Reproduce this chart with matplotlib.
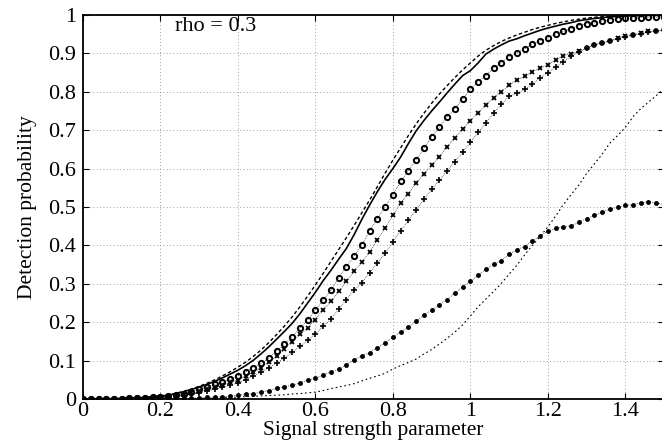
import numpy as np
import matplotlib
matplotlib.use("Agg")
import matplotlib.pyplot as plt

plt.rcParams['font.family'] = ['Liberation Serif', 'DejaVu Serif']

# signal strength grid (step 0.02)
signal = np.linspace(0, 1.5, 76)

# detection probability curves
solid_curve = [
    0.000, 0.000, 0.000, 0.000, 0.001, 0.001, 0.002, 0.003, 0.004, 0.005,
    0.007, 0.010, 0.014, 0.019, 0.025, 0.031, 0.038, 0.046, 0.055, 0.065,
    0.075, 0.087, 0.101, 0.118, 0.136, 0.156, 0.176, 0.197, 0.222, 0.250,
    0.278, 0.308, 0.335, 0.364, 0.392, 0.428, 0.468, 0.505, 0.540, 0.572,
    0.600, 0.630, 0.665, 0.698, 0.725, 0.750, 0.773, 0.797, 0.820, 0.842,
    0.855, 0.875, 0.898, 0.911, 0.922, 0.932, 0.938, 0.946, 0.953, 0.960,
    0.966, 0.971, 0.976, 0.980, 0.985, 0.988, 0.991, 0.993, 0.995, 0.996,
    0.997, 0.998, 0.998, 0.999, 0.999, 0.999]
dashed_curve = [
    0.000, 0.000, 0.000, 0.000, 0.001, 0.001, 0.002, 0.003, 0.004, 0.006,
    0.008, 0.011, 0.015, 0.020, 0.026, 0.033, 0.041, 0.050, 0.060, 0.071,
    0.083, 0.096, 0.111, 0.128, 0.147, 0.168, 0.190, 0.214, 0.240, 0.268,
    0.297, 0.327, 0.358, 0.389, 0.420, 0.452, 0.485, 0.518, 0.553, 0.588,
    0.622, 0.654, 0.686, 0.716, 0.744, 0.770, 0.794, 0.816, 0.837, 0.857,
    0.875, 0.893, 0.908, 0.920, 0.931, 0.940, 0.948, 0.955, 0.962, 0.968,
    0.973, 0.978, 0.982, 0.986, 0.989, 0.992, 0.994, 0.996, 0.997, 0.998,
    0.999, 0.999, 1.000, 1.000, 1.000, 1.000]
circle_curve = [
    0.000, 0.000, 0.000, 0.000, 0.001, 0.001, 0.002, 0.003, 0.003, 0.004,
    0.005, 0.007, 0.010, 0.014, 0.019, 0.025, 0.031, 0.038, 0.045, 0.052,
    0.060, 0.070, 0.082, 0.093, 0.107, 0.125, 0.142, 0.162, 0.184, 0.205,
    0.232, 0.258, 0.283, 0.315, 0.345, 0.372, 0.402, 0.438, 0.469, 0.500,
    0.531, 0.567, 0.594, 0.623, 0.653, 0.683, 0.707, 0.735, 0.756, 0.781,
    0.806, 0.826, 0.842, 0.862, 0.876, 0.891, 0.901, 0.912, 0.924, 0.932,
    0.941, 0.950, 0.957, 0.964, 0.972, 0.977, 0.979, 0.984, 0.987, 0.990,
    0.991, 0.992, 0.993, 0.994, 0.994, 0.995]
cross_curve = [
    0.000, 0.000, 0.000, 0.000, 0.000, 0.001, 0.001, 0.002, 0.003, 0.003,
    0.004, 0.006, 0.008, 0.011, 0.015, 0.020, 0.025, 0.031, 0.037, 0.043,
    0.050, 0.060, 0.070, 0.082, 0.096, 0.112, 0.130, 0.149, 0.168, 0.185,
    0.207, 0.233, 0.254, 0.280, 0.306, 0.333, 0.356, 0.384, 0.413, 0.446,
    0.478, 0.510, 0.535, 0.562, 0.585, 0.609, 0.631, 0.657, 0.680, 0.703,
    0.725, 0.745, 0.765, 0.785, 0.800, 0.817, 0.831, 0.840, 0.852, 0.861,
    0.870, 0.883, 0.894, 0.899, 0.905, 0.914, 0.923, 0.927, 0.932, 0.939,
    0.945, 0.949, 0.952, 0.957, 0.959, 0.961]
plus_curve = [
    0.000, 0.000, 0.000, 0.000, 0.000, 0.001, 0.001, 0.001, 0.002, 0.003,
    0.003, 0.005, 0.007, 0.009, 0.012, 0.016, 0.020, 0.025, 0.030, 0.036,
    0.042, 0.050, 0.060, 0.070, 0.082, 0.094, 0.106, 0.122, 0.137, 0.153,
    0.170, 0.189, 0.208, 0.234, 0.258, 0.284, 0.302, 0.329, 0.354, 0.380,
    0.410, 0.438, 0.465, 0.492, 0.520, 0.546, 0.570, 0.594, 0.618, 0.642,
    0.668, 0.694, 0.718, 0.745, 0.768, 0.788, 0.796, 0.806, 0.820, 0.836,
    0.850, 0.864, 0.878, 0.892, 0.903, 0.913, 0.921, 0.928, 0.933, 0.938,
    0.943, 0.948, 0.951, 0.955, 0.958, 0.960]
dot_curve = [
    0.000, 0.000, 0.000, 0.000, 0.000, 0.000, 0.000, 0.000, 0.000, 0.000,
    0.000, 0.001, 0.001, 0.002, 0.002, 0.003, 0.004, 0.005, 0.006, 0.008,
    0.010, 0.012, 0.014, 0.018, 0.022, 0.028, 0.032, 0.036, 0.042, 0.049,
    0.054, 0.063, 0.070, 0.078, 0.089, 0.102, 0.112, 0.121, 0.134, 0.146,
    0.161, 0.174, 0.188, 0.202, 0.219, 0.231, 0.245, 0.259, 0.276, 0.292,
    0.306, 0.322, 0.338, 0.351, 0.360, 0.377, 0.389, 0.397, 0.412, 0.424,
    0.437, 0.444, 0.449, 0.451, 0.460, 0.470, 0.478, 0.487, 0.495, 0.499,
    0.504, 0.506, 0.511, 0.514, 0.511, 0.506]
thin_curve = [
    0.000, 0.000, 0.000, 0.000, 0.000, 0.000, 0.000, 0.000, 0.000, 0.000,
    0.000, 0.000, 0.000, 0.000, 0.000, 0.001, 0.001, 0.002, 0.003, 0.004,
    0.005, 0.006, 0.007, 0.008, 0.009, 0.010, 0.011, 0.013, 0.014, 0.016,
    0.018, 0.022, 0.027, 0.031, 0.035, 0.040, 0.047, 0.054, 0.060, 0.067,
    0.078, 0.087, 0.095, 0.104, 0.117, 0.129, 0.143, 0.158, 0.174, 0.193,
    0.216, 0.240, 0.260, 0.280, 0.301, 0.325, 0.348, 0.375, 0.400, 0.423,
    0.448, 0.476, 0.506, 0.532, 0.557, 0.587, 0.612, 0.637, 0.666, 0.686,
    0.707, 0.735, 0.756, 0.773, 0.790, 0.810]

x_ticks = [0, 0.2, 0.4, 0.6, 0.8, 1.0, 1.2, 1.4]
x_ticklabels = ['0', '0.2', '0.4', '0.6', '0.8', '1', '1.2', '1.4']
y_ticks = [0, 0.1, 0.2, 0.3, 0.4, 0.5, 0.6, 0.7, 0.8, 0.9, 1.0]
y_ticklabels = ['0', '0.1', '0.2', '0.3', '0.4', '0.5', '0.6', '0.7', '0.8', '0.9', '1']

fig = plt.figure(figsize=(6.62, 4.46), dpi=100)
ax = fig.add_axes([0.1254, 0.1054, 0.8776, 0.861])

ax.plot(signal, thin_curve, color='k', lw=0.8, ls=(0, (1.5, 2.5)))
ax.plot(signal, dot_curve, color='k', lw=0.5, ls=':', marker='.', ms=5)
ax.plot(signal, plus_curve, color='k', lw=0.5, ls=':', marker='+', ms=4, mew=1.2)
ax.plot(signal, cross_curve, color='k', lw=0.5, ls=':', marker='x', ms=3.5, mew=1.3)
ax.plot(signal, circle_curve, color='k', lw=0.5, ls=':', marker='o', ms=3.8,
        mfc='none', mew=1.4)
ax.plot(signal, dashed_curve, color='k', lw=1.0, ls=(0, (2.5, 1.8)))
ax.plot(signal, solid_curve, color='k', lw=1.2)

ax.set_xlim(0, 1.5)
ax.set_ylim(0, 1)
ax.set_xticks(x_ticks)
ax.set_xticklabels(x_ticklabels)
ax.set_yticks(y_ticks)
ax.set_yticklabels(y_ticklabels)
ax.tick_params(direction='in', length=4, width=0.8, top=True, right=True,
               labelsize=16)
ax.tick_params(axis='x', pad=2)
ax.tick_params(axis='y', pad=5)
ax.grid(True, color='0.5', lw=0.6, ls=(0, (1, 3)))

for side in ['left', 'bottom', 'top']:
    ax.spines[side].set_linewidth(1.3)
ax.spines['right'].set_visible(False)

ax.set_xlabel('Signal strength parameter', fontsize=15.5, labelpad=0)
ax.set_ylabel('Detection probability', fontsize=15.5, labelpad=8)
ax.text(0.237, 0.969, 'rho = 0.3', fontsize=16, va='center', ha='left')

fig.savefig('out.png', dpi=100)
